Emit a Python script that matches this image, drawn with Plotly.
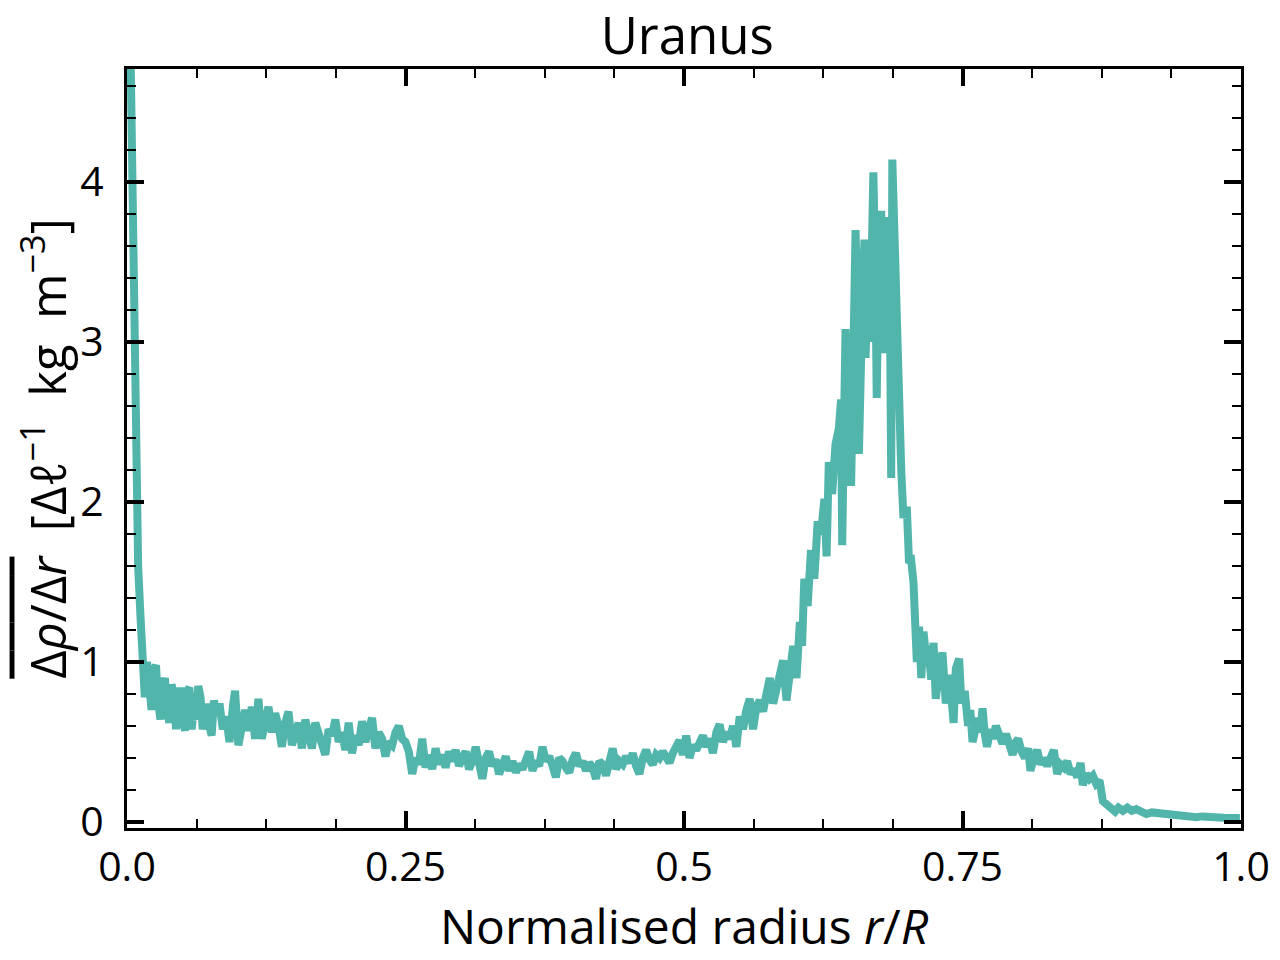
"""
Uranus - mean density gradient vs normalised radius
"""

import plotly.graph_objects as go

# ---- data, grouped by radius range ----
r_centre = [0.0015, 0.0040, 0.0060, 0.0085, 0.0100, 0.0120, 0.0140]
g_centre = [5.60, 4.30, 3.00, 1.70, 1.60, 1.30, 1.04]

r_inner = [0.016, 0.018, 0.020, 0.022, 0.024, 0.026, 0.028, 0.030, 0.032, 0.034,
           0.036, 0.038, 0.040, 0.042, 0.044, 0.046, 0.048, 0.050, 0.052, 0.054,
           0.056, 0.058, 0.060, 0.062, 0.064, 0.066, 0.068, 0.070, 0.072, 0.074,
           0.076, 0.078, 0.080, 0.083, 0.086, 0.089, 0.092, 0.095, 0.097, 0.100,
           0.103, 0.106, 0.109, 0.112, 0.115, 0.118, 0.121, 0.124, 0.127, 0.130,
           0.133, 0.136, 0.139, 0.142, 0.145, 0.148, 0.151, 0.154, 0.157, 0.160,
           0.163, 0.166, 0.169, 0.172, 0.175, 0.178, 0.181, 0.184, 0.187, 0.190,
           0.193, 0.196, 0.199, 0.202, 0.205, 0.208, 0.211, 0.214, 0.217, 0.220,
           0.223, 0.226, 0.229, 0.232, 0.235, 0.238, 0.241, 0.244, 0.247, 0.250,
           0.253, 0.256, 0.259, 0.262, 0.265, 0.268, 0.271, 0.274, 0.277, 0.280]
g_inner = [0.78, 1.00, 0.82, 0.70, 0.95, 0.98, 0.75, 0.64, 0.84, 0.90,
           0.70, 0.62, 0.86, 0.80, 0.58, 0.72, 0.84, 0.66, 0.57, 0.82,
           0.84, 0.58, 0.70, 0.64, 0.85, 0.78, 0.58, 0.66, 0.74, 0.60,
           0.54, 0.76, 0.68, 0.74, 0.58, 0.66, 0.50, 0.72, 0.82, 0.48,
           0.62, 0.70, 0.57, 0.72, 0.52, 0.77, 0.52, 0.66, 0.72, 0.56,
           0.68, 0.60, 0.47, 0.62, 0.69, 0.48, 0.58, 0.62, 0.46, 0.64,
           0.55, 0.46, 0.62, 0.56, 0.48, 0.42, 0.58, 0.54, 0.64, 0.50,
           0.56, 0.45, 0.62, 0.43, 0.54, 0.48, 0.63, 0.50, 0.58, 0.65,
           0.46, 0.56, 0.52, 0.41, 0.50, 0.48, 0.56, 0.60, 0.52, 0.50,
           0.44, 0.30, 0.40, 0.36, 0.52, 0.34, 0.42, 0.33, 0.46, 0.36]

r_middle = [0.283, 0.286, 0.289, 0.292, 0.295, 0.298, 0.301, 0.304, 0.307, 0.310,
            0.313, 0.316, 0.319, 0.322, 0.325, 0.328, 0.331, 0.334, 0.337, 0.340,
            0.343, 0.346, 0.349, 0.352, 0.355, 0.358, 0.361, 0.364, 0.367, 0.370,
            0.373, 0.376, 0.379, 0.382, 0.385, 0.388, 0.391, 0.394, 0.397, 0.400,
            0.403, 0.406, 0.409, 0.412, 0.415, 0.418, 0.421, 0.424, 0.427, 0.430,
            0.433, 0.436, 0.439, 0.442, 0.445, 0.448, 0.451, 0.454, 0.457, 0.460,
            0.463, 0.466, 0.469, 0.472, 0.475, 0.478, 0.481, 0.484, 0.487, 0.490,
            0.493, 0.496, 0.499, 0.502, 0.505, 0.508, 0.511, 0.514, 0.517, 0.520,
            0.523, 0.526, 0.529, 0.532, 0.535, 0.538, 0.541, 0.544, 0.547, 0.550,
            0.553, 0.556, 0.559, 0.562, 0.565, 0.568, 0.571, 0.574, 0.577, 0.580,
            0.583, 0.586, 0.589, 0.592, 0.595, 0.598, 0.601]
g_middle = [0.42, 0.34, 0.44, 0.38, 0.45, 0.35, 0.40, 0.44, 0.33, 0.38,
            0.47, 0.36, 0.27, 0.40, 0.44, 0.35, 0.39, 0.30, 0.36, 0.41,
            0.32, 0.38, 0.31, 0.36, 0.33, 0.40, 0.44, 0.32, 0.38, 0.35,
            0.47, 0.38, 0.41, 0.35, 0.28, 0.40, 0.38, 0.34, 0.31, 0.39,
            0.43, 0.35, 0.38, 0.32, 0.37, 0.34, 0.27, 0.38, 0.36, 0.29,
            0.40, 0.46, 0.33, 0.38, 0.36, 0.41, 0.37, 0.43, 0.35, 0.30,
            0.40, 0.45, 0.39, 0.36, 0.42, 0.40, 0.44, 0.39, 0.37, 0.43,
            0.47, 0.51, 0.42, 0.54, 0.40, 0.48, 0.45, 0.50, 0.54, 0.47,
            0.52, 0.43, 0.56, 0.61, 0.50, 0.56, 0.52, 0.60, 0.47, 0.66,
            0.58, 0.70, 0.77, 0.58, 0.72, 0.76, 0.69, 0.80, 0.90, 0.74,
            0.82, 0.92, 1.01, 0.76, 0.98, 1.10, 0.90]

r_peak = [0.604, 0.606, 0.608, 0.611, 0.614, 0.617, 0.620, 0.623, 0.626, 0.628,
          0.630, 0.633, 0.636, 0.639, 0.641, 0.642, 0.645, 0.647, 0.650, 0.652,
          0.654, 0.656, 0.657, 0.660, 0.662, 0.663, 0.665, 0.667, 0.670, 0.672,
          0.673, 0.675, 0.677, 0.679, 0.680, 0.682, 0.683, 0.685, 0.686, 0.687,
          0.692, 0.695, 0.697, 0.700, 0.702, 0.704, 0.706]
g_peak = [1.25, 1.10, 1.52, 1.35, 1.70, 1.52, 1.88, 1.80, 2.02, 1.66,
          2.25, 2.05, 2.36, 2.46, 2.64, 1.73, 3.08, 2.70, 2.10, 2.90,
          3.70, 3.10, 2.30, 3.20, 3.64, 2.90, 3.40, 3.00, 4.06, 3.30,
          2.65, 3.60, 3.82, 3.30, 2.93, 3.50, 3.78, 3.10, 2.15, 4.14,
          2.63, 2.20, 1.90, 1.97, 1.62, 1.63, 1.50]

r_outer = [0.708, 0.709, 0.711, 0.713, 0.715, 0.717, 0.719, 0.722, 0.724, 0.726,
           0.729, 0.732, 0.735, 0.738, 0.740, 0.742, 0.744, 0.747, 0.749, 0.752,
           0.755, 0.757, 0.759, 0.762, 0.764, 0.766, 0.768, 0.770, 0.772, 0.775,
           0.777, 0.780, 0.783, 0.786, 0.789, 0.792, 0.795, 0.798, 0.800, 0.803,
           0.806, 0.809, 0.811, 0.814, 0.817, 0.820, 0.823, 0.826, 0.829, 0.832,
           0.835, 0.838, 0.841, 0.844, 0.847, 0.850, 0.853, 0.856, 0.858, 0.861,
           0.864, 0.867, 0.870, 0.873, 0.876]
g_outer = [1.14, 1.00, 1.22, 0.90, 1.19, 1.05, 1.10, 0.89, 1.12, 0.77,
           0.95, 1.06, 0.74, 0.92, 0.78, 0.62, 0.96, 1.02, 0.74, 0.82,
           0.60, 0.70, 0.50, 0.60, 0.65, 0.56, 0.71, 0.55, 0.47, 0.58,
           0.52, 0.60, 0.54, 0.49, 0.55, 0.50, 0.42, 0.50, 0.52, 0.44,
           0.40, 0.46, 0.32, 0.40, 0.45, 0.36, 0.40, 0.35, 0.42, 0.45,
           0.30, 0.36, 0.34, 0.38, 0.30, 0.33, 0.28, 0.37, 0.23, 0.30,
           0.27, 0.29, 0.24, 0.26, 0.13]

r_surface = [0.880, 0.884, 0.887, 0.890, 0.894, 0.898, 0.902, 0.906, 0.910, 0.915,
             0.920, 0.925, 0.930, 0.935, 0.940, 0.945, 0.950, 0.955, 0.960, 0.965,
             0.970, 0.975, 0.980, 0.985, 0.990, 0.995, 0.999]
g_surface = [0.100, 0.080, 0.065, 0.090, 0.070, 0.090, 0.070, 0.080, 0.060, 0.050,
             0.060, 0.055, 0.060, 0.045, 0.050, 0.040, 0.040, 0.035, 0.030, 0.035,
             0.030, 0.028, 0.025, 0.026, 0.025, 0.024, 0.025]

x_ticks = [0, 0.25, 0.5, 0.75, 1.0]
x_labels = ["0.0", "0.25", "0.5", "0.75", "1.0"]
y_ticks = [0, 1, 2, 3, 4]

radius = r_centre + r_inner + r_middle + r_peak + r_outer + r_surface
gradient = g_centre + g_inner + g_middle + g_peak + g_outer + g_surface

TEAL = "#52b5ac"
FONT = dict(family="'Open Sans', 'Noto Sans', sans-serif", color="black", size=41)

fig = go.Figure(go.Scatter(
    x=radius, y=gradient, mode="lines",
    line=dict(color=TEAL, width=8),
    hoverinfo="skip",
))

axis = dict(
    showline=True, linecolor="black", linewidth=3, mirror="ticks",
    ticks="inside", ticklen=17, tickwidth=4, tickcolor="black",
    showgrid=False, zeroline=False,
)

ylabel = ("<span style='text-decoration:overline'>Δ<i>ρ</i>/Δ<i>r</i></span>"
          "  [Δ<i>ℓ</i><sup>−1</sup>&nbsp;&nbsp;kg&nbsp;&nbsp;m<sup>−3</sup>]")

# page body adds an 8px margin, so the figure is 8px smaller than the window
fig.update_layout(
    width=1272, height=952,
    paper_bgcolor="white", plot_bgcolor="white",
    font=FONT, showlegend=False,
    margin=dict(l=119, r=39, t=61, b=132, autoexpand=False),
    title=dict(text="Uranus", font=dict(size=51), x=0.534, xanchor="center",
               y=1, yref="paper", yanchor="bottom", pad=dict(b=15)),
    xaxis=dict(**axis, range=[0, 1], tickvals=x_ticks, ticktext=x_labels,
               ticklabelstandoff=1,
               minor=dict(ticks="inside", dtick=0.0625, tick0=0, ticklen=9,
                          tickwidth=2, tickcolor="black"),
               title=dict(text="Normalised radius <i>r</i>/<i>R</i>",
                          font=dict(size=48), standoff=18)),
    yaxis=dict(**axis, range=[-0.0375, 4.706], tickvals=y_ticks,
               ticklabelstandoff=12,
               minor=dict(ticks="inside", dtick=0.2, tick0=0, ticklen=9,
                          tickwidth=2, tickcolor="black"),
               title=dict(text=ylabel, font=dict(size=49), standoff=13)),
)

fig.write_html("out.html")
